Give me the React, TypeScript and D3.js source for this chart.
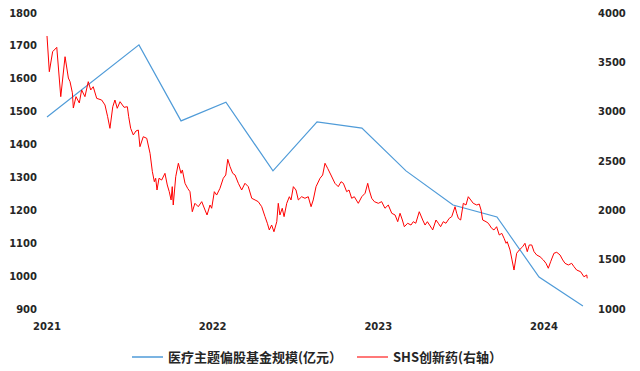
import React from 'react';
import * as d3 from 'd3';

// fund size, 亿元 (left axis): [fractional year, value]
const fundSize: [number, number][] = [
  [2021.0, 1484], [2021.555, 1703], [2021.809, 1472], [2022.08, 1529],
  [2022.364, 1320], [2022.63, 1469], [2022.901, 1450], [2023.167, 1320],
  [2023.451, 1216], [2023.716, 1180], [2023.97, 997], [2024.235, 909],
];

// SHS 创新药 index (right axis): [fractional year, value]
const shsIndex: [number, number][] = [
  [2021.0, 3767], [2021.014, 3405], [2021.034, 3608], [2021.059, 3652], [2021.083, 3152],
  [2021.109, 3557], [2021.129, 3341], [2021.139, 3304], [2021.153, 3192], [2021.159, 3037],
  [2021.175, 3152], [2021.195, 3088], [2021.209, 3220], [2021.229, 3152], [2021.249, 3304],
  [2021.264, 3220], [2021.279, 3253], [2021.3, 3135], [2021.33, 3118], [2021.35, 3068],
  [2021.366, 2949], [2021.38, 2831], [2021.397, 3050], [2021.41, 3118], [2021.424, 3034],
  [2021.441, 3101], [2021.465, 3044], [2021.485, 3050], [2021.493, 2949], [2021.505, 2831],
  [2021.521, 2764], [2021.537, 2804], [2021.551, 2814], [2021.561, 2645], [2021.581, 2746],
  [2021.602, 2730], [2021.622, 2578], [2021.636, 2392], [2021.648, 2290], [2021.656, 2325],
  [2021.664, 2206], [2021.676, 2325], [2021.692, 2307], [2021.712, 2375], [2021.726, 2257],
  [2021.738, 2189], [2021.749, 2105], [2021.756, 2240], [2021.762, 2054], [2021.777, 2341],
  [2021.793, 2477], [2021.809, 2375], [2021.817, 2409], [2021.833, 2274], [2021.849, 2223],
  [2021.863, 2189], [2021.877, 1986], [2021.893, 2071], [2021.913, 2037], [2021.934, 2088],
  [2021.954, 2003], [2021.966, 1953], [2021.984, 2054], [2021.994, 2021], [2022.01, 2189],
  [2022.024, 2155], [2022.044, 2223], [2022.064, 2325], [2022.079, 2358], [2022.091, 2517],
  [2022.105, 2442], [2022.121, 2375], [2022.135, 2358], [2022.155, 2274], [2022.175, 2206],
  [2022.195, 2274], [2022.215, 2240], [2022.236, 2122], [2022.256, 2105], [2022.275, 2088],
  [2022.296, 2037], [2022.316, 1936], [2022.33, 1869], [2022.342, 1801], [2022.356, 1851],
  [2022.37, 1783], [2022.387, 1885], [2022.396, 2071], [2022.406, 1953], [2022.42, 2021],
  [2022.431, 1936], [2022.447, 2071], [2022.463, 2138], [2022.473, 2105], [2022.487, 2240],
  [2022.503, 2206], [2022.517, 2105], [2022.537, 2138], [2022.557, 2122], [2022.577, 2138],
  [2022.594, 2037], [2022.607, 2105], [2022.624, 2240], [2022.648, 2325], [2022.664, 2358],
  [2022.678, 2477], [2022.694, 2426], [2022.714, 2358], [2022.738, 2274], [2022.758, 2240],
  [2022.775, 2290], [2022.789, 2274], [2022.809, 2189], [2022.823, 2206], [2022.839, 2122],
  [2022.855, 2138], [2022.879, 2071], [2022.9, 2138], [2022.92, 2173], [2022.936, 2274],
  [2022.945, 2206], [2022.96, 2122], [2022.976, 2088], [2023.0, 2071], [2023.02, 2088],
  [2023.04, 2021], [2023.06, 2054], [2023.081, 1970], [2023.101, 1953], [2023.117, 1885],
  [2023.131, 1970], [2023.145, 1902], [2023.157, 1834], [2023.177, 1869], [2023.197, 1851],
  [2023.211, 1885], [2023.226, 1869], [2023.247, 1986], [2023.268, 1902], [2023.282, 1851],
  [2023.296, 1885], [2023.322, 1818], [2023.328, 1801], [2023.348, 1902], [2023.362, 1869],
  [2023.376, 1834], [2023.392, 1885], [2023.408, 1869], [2023.428, 1919], [2023.443, 1936],
  [2023.463, 2037], [2023.473, 1970], [2023.483, 1919], [2023.497, 1902], [2023.513, 2071],
  [2023.529, 2054], [2023.543, 2138], [2023.558, 2105], [2023.573, 2071], [2023.594, 2054],
  [2023.609, 2064], [2023.62, 2003], [2023.63, 1902], [2023.65, 1885], [2023.664, 1869],
  [2023.684, 1818], [2023.698, 1801], [2023.714, 1834], [2023.73, 1750], [2023.745, 1767],
  [2023.759, 1717], [2023.771, 1666], [2023.778, 1682], [2023.795, 1598], [2023.807, 1497],
  [2023.819, 1395], [2023.835, 1565], [2023.851, 1598], [2023.871, 1631], [2023.885, 1666],
  [2023.899, 1581], [2023.911, 1649], [2023.926, 1649], [2023.94, 1581], [2023.956, 1547],
  [2023.976, 1530], [2023.996, 1497], [2024.012, 1463], [2024.026, 1413], [2024.04, 1479],
  [2024.06, 1565], [2024.077, 1575], [2024.097, 1547], [2024.113, 1497], [2024.127, 1463],
  [2024.147, 1446], [2024.167, 1463], [2024.181, 1429], [2024.197, 1395], [2024.221, 1378],
  [2024.241, 1327], [2024.258, 1345], [2024.261, 1311],
];

const leftTicks = [900, 1000, 1100, 1200, 1300, 1400, 1500, 1600, 1700, 1800];
const rightTicks = [1000, 1500, 2000, 2500, 3000, 3500, 4000];
const yearTicks = [2021, 2022, 2023, 2024];

const legendBlue = '医疗主题偏股基金规模(亿元）';
const legendRed = 'SHS创新药(右轴）';

const W = 640;
const H = 371;
const BLUE = '#4f9bd8';
const RED = '#ff0000';
const TXT = '#262626';

export default function App() {
  const x = d3.scaleLinear().domain([2021, 2024]).range([47, 544]);
  const yL = d3.scaleLinear().domain([900, 1800]).range([309, 13]);
  const yR = d3.scaleLinear().domain([1000, 4000]).range([309, 13]);

  const blueLine = d3.line<[number, number]>().x(d => x(d[0])).y(d => yL(d[1]))(fundSize) || '';
  const redLine = d3.line<[number, number]>().x(d => x(d[0])).y(d => yR(d[1]))(shsIndex) || '';

  const font = '"DejaVu Sans", Arial, sans-serif';
  const cjk = '"Noto Sans CJK SC", "DejaVu Sans", sans-serif';

  return (
    <svg width={W} height={H} style={{ position: 'absolute', left: 0, top: 0, background: '#fff' }}>
      <rect width={W} height={H} fill="#fff" />

      {leftTicks.map(t => (
        <text key={'l' + t} x={37} y={yL(t)} dy="0.35em" textAnchor="end" fontFamily={font}
          fontSize={10} fontWeight="bold" fill={TXT}>{t}</text>
      ))}
      {rightTicks.map(t => (
        <text key={'r' + t} x={598} y={yR(t)} dy="0.35em" textAnchor="start" fontFamily={font}
          fontSize={10} fontWeight="bold" fill={TXT}>{t}</text>
      ))}
      {yearTicks.map(t => (
        <text key={'x' + t} x={x(t)} y={326} dy="0.35em" textAnchor="middle" fontFamily={font}
          fontSize={10} fontWeight="bold" fill={TXT}>{t}</text>
      ))}

      <path d={blueLine} fill="none" stroke={BLUE} strokeWidth={1.2} />
      <path d={redLine} fill="none" stroke={RED} strokeWidth={1} strokeLinejoin="round" />

      {/* legend */}
      <line x1={132} x2={163} y1={357} y2={357} stroke={BLUE} strokeWidth={1.5} />
      <text x={168} y={357} dy="0.35em" fontFamily={cjk} fontSize={13} fontWeight="bold" fill={TXT}>{legendBlue}</text>
      <line x1={357} x2={388} y1={357} y2={357} stroke={RED} strokeWidth={1.5} opacity={0.7} />
      <text x={393} y={357} dy="0.35em" fontFamily={cjk} fontSize={13} fontWeight="bold" fill={TXT}>{legendRed}</text>
    </svg>
  );
}
